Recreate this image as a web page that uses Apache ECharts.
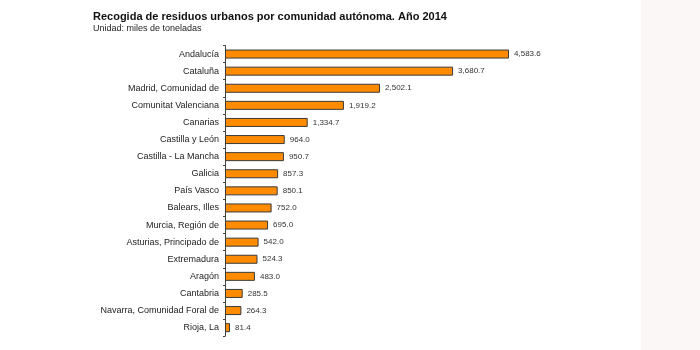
<!DOCTYPE html>
<html>
<head>
<meta charset="utf-8">
<script src="https://cdn.jsdelivr.net/npm/echarts@6/dist/echarts.min.js"></script>
<style>
  html, body { margin: 0; padding: 0; background: #ffffff; }
  #wrap { position: relative; width: 700px; height: 350px; }
  #side { position: absolute; left: 641px; top: 0; width: 59px; height: 350px; background: #fbf7f6; }
  #chart { position: absolute; left: 0; top: 0; width: 700px; height: 350px; }
</style>
</head>
<body>
<div id="wrap">
  <div id="side"></div>
  <div id="chart"></div>
</div>
<script>
// Comunidades autónomas, de mayor a menor recogida
const regions = [
  'Andalucía', 'Cataluña', 'Madrid, Comunidad de', 'Comunitat Valenciana',
  'Canarias', 'Castilla y León', 'Castilla - La Mancha', 'Galicia',
  'País Vasco', 'Balears, Illes', 'Murcia, Región de', 'Asturias, Principado de',
  'Extremadura', 'Aragón', 'Cantabria', 'Navarra, Comunidad Foral de', 'Rioja, La'
];
// Miles de toneladas, 2014
const tonnes = [
  4583.6, 3680.7, 2502.1, 1919.2, 1334.7, 964.0, 950.7, 857.3,
  850.1, 752.0, 695.0, 542.0, 524.3, 483.0, 285.5, 264.3, 81.4
];

const fmt = v => v.toLocaleString('en-US', { minimumFractionDigits: 1, maximumFractionDigits: 1 });

const chart = echarts.init(document.getElementById('chart'), null, { renderer: 'canvas' });
chart.setOption({
  backgroundColor: 'transparent',
  animation: false,
  title: {
    text: 'Recogida de residuos urbanos por comunidad autónoma. Año 2014',
    subtext: 'Unidad: miles de toneladas',
    left: 88,
    top: 6,
    itemGap: 2,
    textStyle: { fontFamily: 'Liberation Sans', fontSize: 11, fontWeight: 'bold', color: '#111' },
    subtextStyle: { fontFamily: 'Liberation Sans', fontSize: 9, color: '#222' }
  },
  grid: { left: 225, top: 45.5, width: 371.8, height: 290.7, containLabel: false },
  xAxis: {
    type: 'value',
    min: 0,
    max: 6000,
    show: false
  },
  yAxis: {
    type: 'category',
    data: regions,
    inverse: true,
    axisLine: { show: true, lineStyle: { color: '#444', width: 1 } },
    axisTick: { show: true, length: 2, lineStyle: { color: '#444' } },
    axisLabel: { fontFamily: 'Liberation Sans', fontSize: 9, color: '#222', margin: 6 }
  },
  series: [{
    type: 'bar',
    data: tonnes,
    barWidth: 9,
    itemStyle: { color: '#ff8c00', borderColor: '#3a3a3a', borderWidth: 1 },
    label: {
      show: true,
      position: 'right',
      distance: 5,
      formatter: p => fmt(p.value),
      fontFamily: 'Liberation Sans',
      fontSize: 8,
      color: '#333'
    }
  }]
});
</script>
</body>
</html>
